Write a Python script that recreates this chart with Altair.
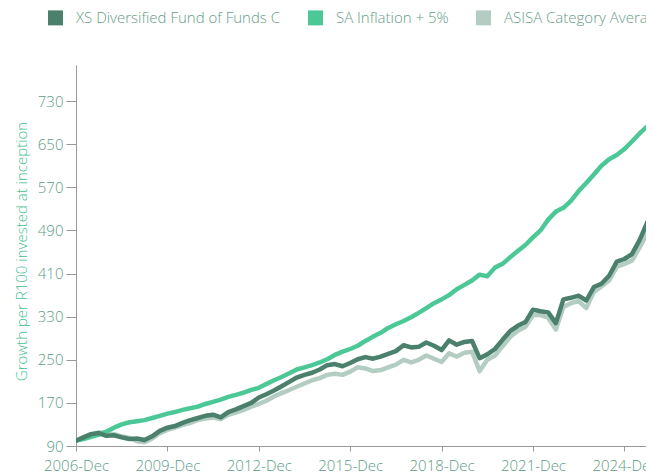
import altair as alt
import pandas as pd

FUND = "XS Diversified Fund of Funds C"
INFL = "SA Inflation + 5%"
ASISA = "ASISA Category Average"
series_names = [FUND, INFL, ASISA]
series_colors = ["#4a806c", "#4cc897", "#b3cdc3"]

# quarterly observations, Dec 2006 .. Dec 2025
dates = pd.date_range("2006-12-01", "2025-12-01", freq="3MS").strftime("%Y-%m-%d").tolist()

fund = [100, 106, 112, 114, 109, 110, 106, 103, 104, 101, 108, 118, 124, 127, 133, 138, 142,
        146, 148, 143, 153, 158, 164, 170, 180, 186, 193, 201, 209, 217, 222, 226, 232,
        240, 242, 238, 244, 251, 255, 252, 256, 261, 266, 277, 273, 274, 282, 276, 268,
        286, 278, 283, 285, 253, 260, 270, 287, 303, 313, 320, 343, 340, 338, 318, 362,
        365, 369, 360, 385, 391, 406, 432, 437, 446, 472, 505, 526]

inflation = [100, 103, 107, 111, 117, 124, 130, 134, 136, 138, 142, 146, 150, 153, 157, 160, 163,
             168, 172, 176, 181, 185, 189, 194, 198, 205, 212, 218, 225, 232, 236, 240, 245,
             251, 259, 265, 270, 276, 285, 293, 300, 309, 316, 322, 329, 337, 346, 355, 362,
             370, 381, 389, 397, 408, 405, 421, 428, 440, 452, 463, 477, 490, 510, 525, 532,
             545, 563, 578, 594, 610, 622, 630, 641, 655, 670, 683, 697]

asisa = [100, 106, 112, 115, 114, 112, 108, 105, 99, 97, 104, 114, 120, 124, 129, 133, 138,
         141, 143, 140, 148, 152, 157, 163, 168, 174, 182, 188, 194, 200, 206, 212, 216,
         222, 224, 222, 228, 236, 234, 229, 231, 236, 241, 250, 245, 250, 258, 252, 246,
         262, 256, 263, 265, 229, 250, 258, 275, 292, 304, 311, 333, 333, 328, 306, 348,
         355, 359, 346, 376, 386, 397, 423, 428, 434, 458, 485, 503]

y_ticks = [90, 170, 250, 330, 410, 490, 570, 650, 730]
x_tick_years = [2006, 2009, 2012, 2015, 2018, 2021, 2024]

rows = []
for name, vals in [(FUND, fund), (INFL, inflation), (ASISA, asisa)]:
    for d, v in zip(dates, vals):
        rows.append({"date": d, "value": v, "series": name})
df = pd.DataFrame(rows)

FONT = "Open Sans"
LABEL_COLOR = "#5d9c86"
TITLE_COLOR = "#45bf8e"

x_enc = alt.X(
    "date:T",
    scale=alt.Scale(
        type="utc",
        domain=[alt.DateTime(year=2006, month=12, date=1, utc=True),
                alt.DateTime(year=2025, month=8, date=17, utc=True)],
    ),
    axis=alt.Axis(
        values=[alt.DateTime(year=y, month=12, date=1, utc=True) for y in x_tick_years],
        labelExpr="utcFormat(datum.value, '%Y-%b')", title=None, grid=False,
        labelFlush=False, labelOverlap=False, labelBound=False, tickSize=5, labelPadding=7,
    ),
)
y_enc = alt.Y(
    "value:Q",
    scale=alt.Scale(domain=[90, 797], nice=False, zero=False),
    axis=alt.Axis(
        values=y_ticks, title="Growth per R100 invested at inception", grid=False,
        tickSize=10, labelPadding=3, titlePadding=8, titleColor=TITLE_COLOR,
        titleFontSize=15, titleFontWeight=300, titleFont=FONT, titleY=186,
    ),
)
color_enc = alt.Color(
    "series:N",
    scale=alt.Scale(domain=series_names, range=series_colors),
    legend=alt.Legend(
        orient="none", legendX=-28, legendY=-55, direction="horizontal", title=None,
        symbolType="square", symbolSize=56, symbolStrokeWidth=7.5, symbolOpacity=1,
        labelFontSize=15, labelFont=FONT, labelColor="#679c87", labelFontWeight=300,
        labelLimit=0, columnPadding=15, labelOffset=13,
    ),
)

def series_layer(name):
    return (
        alt.Chart(df)
        .transform_filter(alt.datum.series == name)
        .mark_line(strokeWidth=4.5, clip=True, strokeJoin="round", strokeCap="round")
        .encode(x=x_enc, y=y_enc, color=color_enc)
    )

chart = (
    alt.layer(series_layer(ASISA), series_layer(INFL), series_layer(FUND))
    .properties(
        width=570, height=381,
        autosize=alt.AutoSizeParams(type="none"),
        padding={"left": 68, "top": 57, "right": 0, "bottom": 28},
    )
    .configure_view(stroke=None)
    .configure_axis(
        domainColor="#9a9a9a", tickColor="#9a9a9a", labelColor=LABEL_COLOR,
        labelFontSize=15, labelFont=FONT, labelFontWeight=300,
    )
)

chart.save("out.html", embed_options={"renderer": "svg", "actions": False})
